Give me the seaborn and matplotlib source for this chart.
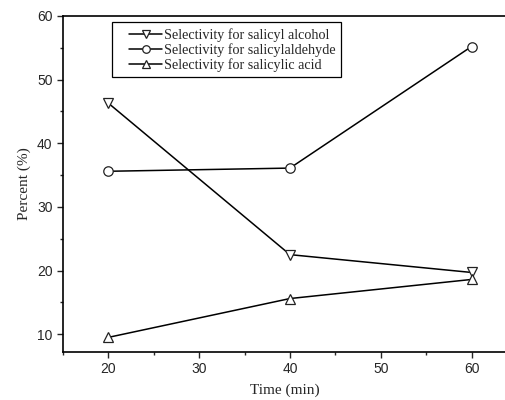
import matplotlib
matplotlib.use("Agg")
import matplotlib.pyplot as plt
import seaborn as sns
import pandas as pd
from matplotlib.ticker import MultipleLocator
from matplotlib.patches import Rectangle

time = [20, 40, 60]
alcohol = [46.3, 22.5, 19.7]
aldehyde = [35.6, 36.1, 55.2]
acid = [9.5, 15.6, 18.6]
labels = ["Selectivity for salicyl alcohol",
          "Selectivity for salicylaldehyde",
          "Selectivity for salicylic acid"]
markers = ["v", "o", "^"]

sns.set_style("ticks")
fig = plt.figure(figsize=(5.06, 4.0), dpi=100)
ax = fig.add_axes([63/506, 1 - 352/400, (506-63)/506, (352-16)/400])

series = [alcohol, aldehyde, acid]
for vals, lab, mk in zip(series, labels, markers):
    df = pd.DataFrame({"t": time, "v": vals})
    sns.lineplot(data=df, x="t", y="v", ax=ax, color="black", lw=1.1,
                 marker=mk, markersize=6.8, markerfacecolor="white",
                 markeredgecolor="#222222", markeredgewidth=0.9, label=lab)

ax.set_xlim(15, 63.8)
ax.set_ylim(7.2, 60)
ax.xaxis.set_major_locator(MultipleLocator(10))
ax.xaxis.set_minor_locator(MultipleLocator(5))
ax.yaxis.set_major_locator(MultipleLocator(10))
ax.yaxis.set_minor_locator(MultipleLocator(5))
ax.tick_params(which="major", direction="out", length=4, width=1, labelsize=10)
ax.tick_params(which="minor", direction="out", length=2.5, width=1)
for lab in ax.get_xticklabels() + ax.get_yticklabels():
    lab.set_family("Liberation Sans")
for s in ["left", "bottom", "top"]:
    ax.spines[s].set_linewidth(1.2)
    ax.spines[s].set_color("black")
ax.spines["right"].set_visible(False)
ax.tick_params(top=False, right=False)

ax.set_xlabel("Time (min)", fontfamily="Liberation Serif", fontsize=11, labelpad=5)
ax.set_ylabel("Percent (%)", fontfamily="Liberation Serif", fontsize=11, labelpad=4)

leg = ax.legend(loc="upper left", bbox_to_anchor=(129/506, 1 - 28/400),
                bbox_transform=fig.transFigure, frameon=False,
                prop={"family": "Liberation Serif", "size": 10.2},
                handlelength=2.35, handletextpad=0.15, labelspacing=0.1,
                borderpad=0.0, borderaxespad=0, markerscale=0.8)

fig.canvas.draw()
bb = leg.get_window_extent()
pad_l, pad_r, pad_t, pad_b = 17, 5, 6, 5
rect = Rectangle((bb.x0 - pad_l, bb.y0 - pad_b),
                 bb.width + pad_l + pad_r, bb.height + pad_t + pad_b,
                 transform=None, fill=False, edgecolor="black", lw=0.9,
                 zorder=5)
fig.patches.append(rect)

fig.savefig("out.png", dpi=100)
